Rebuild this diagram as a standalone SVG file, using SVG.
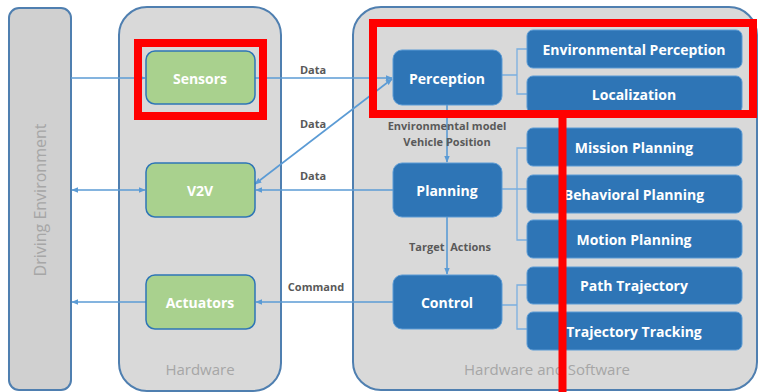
<svg xmlns="http://www.w3.org/2000/svg" width="759" height="392" viewBox="0 0 759 392">
<defs>
<style>
.panel{fill:#d9d9d9;stroke:#4f7fb0;stroke-width:2}
.green{fill:#a9d18e;stroke:#2e75b6;stroke-width:1.5}
.blue{fill:#2e75b6;stroke:#5b9bd5;stroke-width:1}
.wt{font-family:"Open Sans","Liberation Sans",sans-serif;font-weight:bold;fill:#ffffff;text-anchor:middle;dominant-baseline:central}
.gt{font-family:"Open Sans","Liberation Sans",sans-serif;fill:#a6a6a6;text-anchor:middle;dominant-baseline:central}
.lb{font-family:"Open Sans","Liberation Sans",sans-serif;font-weight:bold;fill:#595959;font-size:11px;text-anchor:middle;dominant-baseline:central}
.ln{fill:none;stroke:#5b9bd5;stroke-width:1.6}
.br{fill:none;stroke:#7aafe0;stroke-width:1.3}
.red{fill:none;stroke:#ff0000;stroke-width:8}
</style>
<marker id="ah" viewBox="0 0 10 10" refX="9" refY="5" markerWidth="7" markerHeight="7" orient="auto-start-reverse" markerUnits="userSpaceOnUse">
<path d="M0,1 L10,5 L0,9 z" fill="#5b9bd5"/>
</marker>
</defs>

<g id="driving-environment">
<rect x="9" y="8" width="62" height="382" rx="10" fill="#d0d0d0" stroke="#4f7fb0" stroke-width="2"/>
<text class="gt" font-size="16" transform="translate(40,200) rotate(-90)">Driving Environment</text>
</g>

<g id="hardware">
<rect class="panel" x="119" y="7" width="162" height="384" rx="28"/>
<text class="gt" x="200" y="369" font-size="15">Hardware</text>
</g>

<g id="hardware-software">
<rect class="panel" x="353" y="7" width="404" height="383" rx="28"/>
<text class="gt" x="547" y="369" font-size="15">Hardware and Software</text>
</g>

<g id="connectors">
<line class="ln" x1="71" y1="78" x2="145" y2="78" marker-end="url(#ah)"/>
<line class="ln" x1="255" y1="78" x2="392" y2="78" marker-end="url(#ah)"/>
<line class="ln" x1="255" y1="184" x2="392" y2="79" marker-start="url(#ah)" marker-end="url(#ah)"/>
<line class="ln" x1="72" y1="190" x2="145" y2="190" marker-start="url(#ah)" marker-end="url(#ah)"/>
<line class="ln" x1="256" y1="190" x2="393" y2="190" marker-start="url(#ah)"/>
<line class="ln" x1="72" y1="302" x2="146" y2="302" marker-start="url(#ah)"/>
<line class="ln" x1="256" y1="302" x2="393" y2="302" marker-start="url(#ah)"/>
<line class="ln" x1="447" y1="105" x2="447" y2="162" marker-end="url(#ah)"/>
<line class="ln" x1="447" y1="217" x2="447" y2="274" marker-end="url(#ah)"/>
<path class="br" d="M502,75 H517 M527,49 H517 V94 H527"/>
<path class="br" d="M502,189 H527 M527,148 H517 V240 H527"/>
<path class="br" d="M502,305 H517 M527,285 H517 V329 H527"/>
<text class="lb" x="313" y="69">Data</text>
<text class="lb" x="313" y="123">Data</text>
<text class="lb" x="313" y="175">Data</text>
<text class="lb" x="316" y="286">Command</text>
<text class="lb" x="447" y="125">Environmental model</text>
<text class="lb" x="447" y="141">Vehicle Position</text>
<text class="lb" x="450" y="246" xml:space="preserve">Target  Actions</text>
</g>

<g id="sensors">
<rect class="green" x="146" y="51" width="109" height="53" rx="9"/>
<text class="wt" x="200" y="78" font-size="14">Sensors</text>
</g>
<g id="v2v">
<rect class="green" x="146" y="163" width="109" height="54" rx="9"/>
<text class="wt" x="200" y="190" font-size="14">V2V</text>
</g>
<g id="actuators">
<rect class="green" x="146" y="275" width="109" height="54" rx="9"/>
<text class="wt" x="200" y="302" font-size="14">Actuators</text>
</g>

<g id="perception">
<rect class="blue" x="393" y="50" width="109" height="55" rx="9"/>
<text class="wt" x="447" y="78" font-size="14">Perception</text>
</g>
<g id="planning">
<rect class="blue" x="393" y="163" width="109" height="54" rx="9"/>
<text class="wt" x="447" y="190" font-size="14">Planning</text>
</g>
<g id="control">
<rect class="blue" x="393" y="275" width="109" height="54" rx="9"/>
<text class="wt" x="447" y="302" font-size="14">Control</text>
</g>

<g id="environmental-perception">
<rect class="blue" x="527" y="30" width="215" height="38" rx="6"/>
<text class="wt" x="634" y="49" font-size="14">Environmental Perception</text>
</g>
<g id="localization">
<rect class="blue" x="527" y="76" width="215" height="37" rx="6"/>
<text class="wt" x="634" y="94" font-size="14">Localization</text>
</g>
<g id="mission-planning">
<rect class="blue" x="527" y="128" width="215" height="38" rx="6"/>
<text class="wt" x="634" y="147" font-size="14">Mission Planning</text>
</g>
<g id="behavioral-planning">
<rect class="blue" x="527" y="175" width="215" height="38" rx="6"/>
<text class="wt" x="634" y="194" font-size="14">Behavioral Planning</text>
</g>
<g id="motion-planning">
<rect class="blue" x="527" y="220" width="215" height="38" rx="6"/>
<text class="wt" x="634" y="239" font-size="14">Motion Planning</text>
</g>
<g id="path-trajectory">
<rect class="blue" x="527" y="267" width="215" height="37" rx="6"/>
<text class="wt" x="634" y="285" font-size="14">Path Trajectory</text>
</g>
<g id="trajectory-tracking">
<rect class="blue" x="527" y="312" width="215" height="38" rx="6"/>
<text class="wt" x="634" y="331" font-size="14">Trajectory Tracking</text>
</g>

<g id="highlights">
<rect class="red" x="138" y="43" width="125" height="73"/>
<rect class="red" x="373" y="23" width="380" height="91"/>
<line x1="562.5" y1="114" x2="562.5" y2="392" stroke="#ff0000" stroke-width="8"/>
</g>
</svg>
